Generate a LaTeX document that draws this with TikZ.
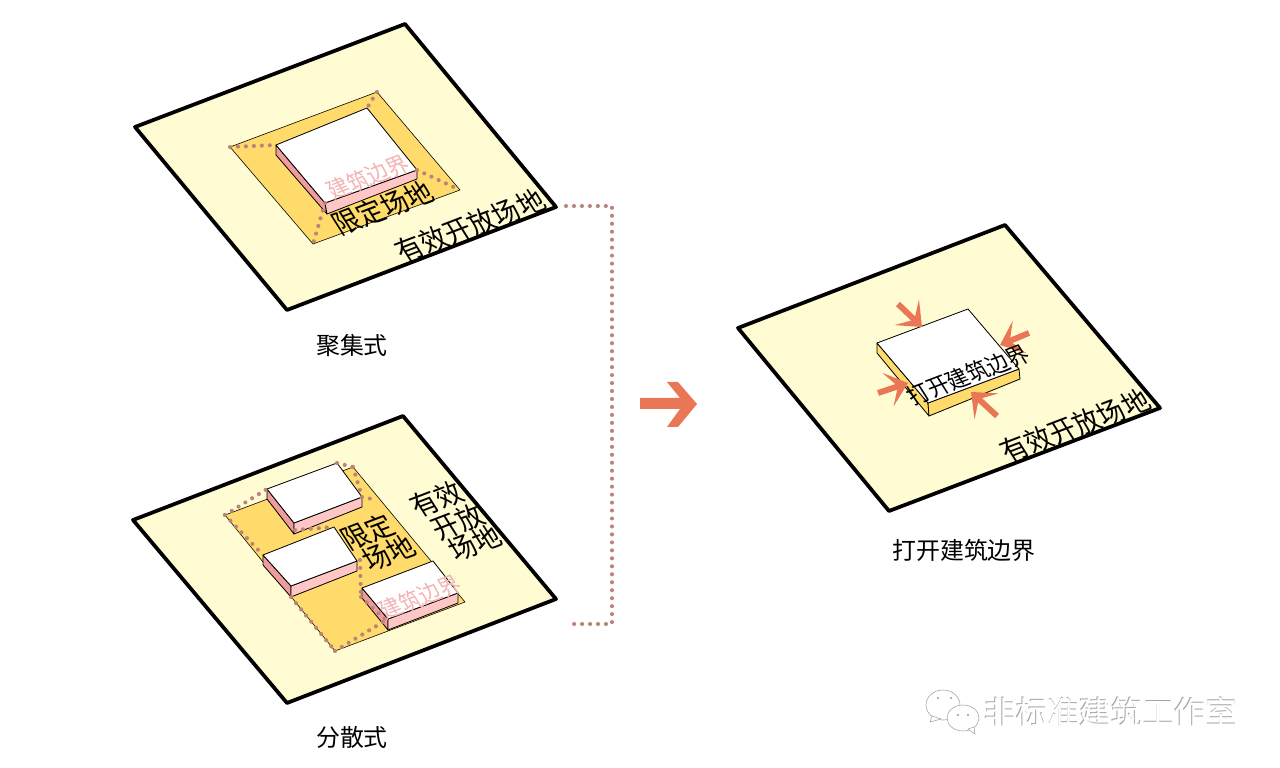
\documentclass[tikz,border=0pt]{standalone}
\usepackage{fontspec}
\setmainfont{Noto Sans CJK SC}
\usetikzlibrary{arrows.meta}
\definecolor{platecol}{HTML}{FFFBD2}
\definecolor{yardcol}{HTML}{FFDB6C}
\definecolor{frontcol}{HTML}{FFC6C6}
\definecolor{sidecol}{HTML}{F09C9C}
\definecolor{pinktext}{HTML}{F3B4B4}
\definecolor{dotcol}{HTML}{BB8478}
\definecolor{arrowcol}{HTML}{E97654}
\tikzset{
  plate/.style={fill=platecol, draw=black, line width=3.2pt, line join=round},
  yard/.style={fill=yardcol, draw=black, line width=0.5pt},
  top/.style={fill=white, draw=black, line width=0.7pt, line join=round},
  front/.style={fill=frontcol, draw=black, line width=0.7pt, line join=round},
  side/.style={fill=sidecol, draw=black, line width=0.7pt, line join=round},
  openface/.style={fill=yardcol, draw=black, line width=0.7pt, line join=round},
  dotline/.style={draw=dotcol, line width=3.5pt, line cap=round, dash pattern=on 0pt off 6.8pt},
  push/.style={draw=arrowcol, line width=5pt, -{Stealth[length=18pt,width=30pt,inset=9pt]}},
  lab/.style={inner sep=0pt, font=\fontsize{20.4}{24}\selectfont},
  skew/.style={inner sep=0pt, cm={0.934,0.358,-0.6,0.95,(0,0)}},
  tag/.style={skew, font=\fontsize{22}{26}\selectfont},
  pinktag/.style={skew, text=pinktext, font=\fontsize{18}{22}\selectfont}
}
\begin{document}
\begin{tikzpicture}[x=0.03cm, y=-0.03cm]
\useasboundingbox (0,0) rectangle (1280,768);

% first plate
\draw[plate] (405,24) -- (556,207) -- (287,310) -- (135,127) -- cycle;
\coordinate (yl) at (230,147);
\coordinate (yt) at (377,92);
\coordinate (yr) at (460,190);
\coordinate (yb) at (313,244);
\coordinate (p1) at (276,145);
\coordinate (p2) at (367,108);
\coordinate (p3) at (417,170);
\coordinate (p4) at (325,203);
\coordinate (p5) at (276,155);
\coordinate (p6) at (327,214);
\coordinate (p7) at (417,179);
\draw[yard] (yl) -- (yt) -- (yr) -- (yb) -- cycle;
\draw[side] (p1) -- (p4) -- (p6) -- (p5) -- cycle;
\draw[front] (p4) -- (p3) -- (p7) -- (p6) -- cycle;
\draw[top] (p1) -- (p2) -- (p3) -- (p4) -- cycle;
\foreach \p/\q in {yl/p1, yt/p2, p3/yr, p4/yb}
{\draw[dotline] (\p) -- (\q);}
\node[pinktag] (bound1) at (368,177) {建筑边界};
\node[tag] (limit1) at (383,208) {限定场地};
\node[tag] (open1) at (470,226) {有效开放场地};
\node[lab] (name1) at (352,346) {聚集式};

% second plate
\draw[plate] (403,416) -- (556,599) -- (287,703) -- (133,520) -- cycle;
\coordinate (ql) at (225,515);
\coordinate (qt) at (353,467);
\coordinate (qr) at (465,602);
\coordinate (qb) at (335,651);
\draw[yard] (ql) -- (qt) -- (qr) -- (qb) -- cycle;
\foreach \n/\ax/\ay/\bx/\by/\cx/\cy/\dx/\dy in {a/267/489/337/463/362/497/294/523, b/263/555/334/527/357/561/291/586, c/362/588/433/561/458/593/388/619}
{
\coordinate (\n1) at (\ax,\ay);
\coordinate (\n2) at (\bx,\by);
\coordinate (\n3) at (\cx,\cy);
\coordinate (\n4) at (\dx,\dy);
\coordinate (\n5) at (\ax,\ay+10);
\coordinate (\n6) at (\dx,\dy+11);
\coordinate (\n7) at (\cx,\cy+10);
\draw[side] (\n1) -- (\n4) -- (\n6) -- (\n5) -- cycle;
\draw[front] (\n4) -- (\n3) -- (\n7) -- (\n6) -- cycle;
\draw[top] (\n1) -- (\n2) -- (\n3) -- (\n4) -- cycle;
}
\coordinate (qe) at (377,500);
\coordinate (qs) at (360,560);
\coordinate (qd) at (361,597);
\coordinate (qf) at (388,622);
\coordinate (qg) at (295,530);
\foreach \p/\q in {ql/a1, a2/qt, qt/a3, a3/qe, qg/b2, ql/b1, qs/qd, qd/qf, b6/qb, qb/c4}
{\draw[dotline] (\p) -- (\q);}
\node[tag] (limit2a) at (368,532) {限定};
\node[tag] (limit2b) at (389,553) {场地};
\node[tag] (open2a) at (437,499) {有效};
\node[tag] (open2b) at (458,522) {开放};
\node[tag] (open2c) at (475,543) {场地};
\node[pinktag] (bound2) at (420,597) {建筑边界};
\node[lab] (name2) at (352,737) {分散式};

% third plate
\draw[plate] (1005,225) -- (1160,408) -- (889,511) -- (738,328) -- cycle;
\coordinate (r1) at (877,343);
\coordinate (r2) at (968,309);
\coordinate (r3) at (1019,369);
\coordinate (r4) at (928,403);
\coordinate (r5) at (877,353);
\coordinate (r6) at (929,416);
\coordinate (r7) at (1020,379);
\draw[openface] (r1) -- (r4) -- (r6) -- (r5) -- cycle;
\draw[openface] (r4) -- (r3) -- (r7) -- (r6) -- cycle;
\draw[top] (r1) -- (r2) -- (r3) -- (r4) -- cycle;
\coordinate (s1) at (898,304);
\coordinate (e1) at (922,327);
\coordinate (s2) at (1029,333);
\coordinate (e2) at (1000,345);
\coordinate (s3) at (878,393);
\coordinate (e3) at (908,383);
\coordinate (s4) at (997,416);
\coordinate (e4) at (971,392);
\foreach \p/\q in {s1/e1, s2/e2, s3/e3, s4/e4}
{\draw[push] (\p) -- (\q);}
\node[skew, font=\fontsize{18.2}{22}\selectfont] (openbound) at (968,375) {打开建筑边界};
\node[tag] (open3) at (1075,426) {有效开放场地};
\node[lab] (name3) at (964,550) {打开建筑边界};

% dotted link and big arrow
\coordinate (l1) at (566,206);
\coordinate (l2) at (612,206);
\coordinate (l3) at (612,624);
\coordinate (l4) at (570,624);
\draw[dotline] (l1) -- (l2) -- (l3) -- (l4);
\fill[arrowcol] (640,398) -- (680,398) -- (667,382) -- (678,382) -- (697,404) -- (678,427) -- (667,427) -- (680,409) -- (640,409) -- cycle;

% watermark
\filldraw[fill=white, draw=black!35, line width=0.5pt] (943,705) ellipse (17 and 15);
\filldraw[fill=white, draw=black!35, line width=0.5pt] (932,716) -- (930,722) -- (941,719) -- cycle;
\filldraw[fill=white, draw=black!35, line width=0.5pt] (963,718) ellipse (16 and 13);
\filldraw[fill=white, draw=black!35, line width=0.5pt] (968,729) -- (975,734) -- (974,727) -- cycle;
\foreach \x/\y in {938/698, 951/698, 958/715, 968/715}
{\fill[black!40] (\x,\y) circle (1.2);}
\node[inner sep=0pt, text=black!35, font=\fontsize{27}{30}\selectfont] (markgrey) at (1110.4,711.6) {非标准建筑工作室};
\node[inner sep=0pt, text=white, font=\fontsize{27}{30}\selectfont] (markwhite) at (1111,712) {非标准建筑工作室};
\end{tikzpicture}
\end{document}
